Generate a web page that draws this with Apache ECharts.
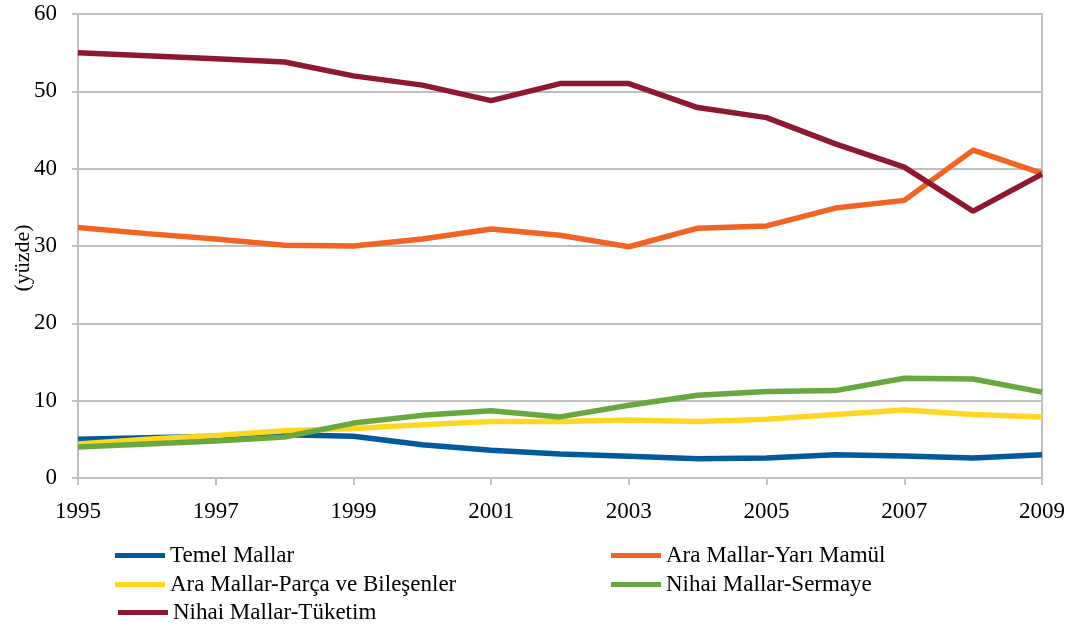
<!DOCTYPE html>
<html>
<head>
<meta charset="utf-8">
<script src="https://cdn.jsdelivr.net/npm/echarts@6/dist/echarts.min.js"></script>
<style>
  html, body { margin: 0; padding: 0; background: #fff; }
  #chart { width: 1069px; height: 627px; }
</style>
</head>
<body>
<div id="chart"></div>
<script>
  // years on the x axis
  const years = ['1995', '1996', '1997', '1998', '1999', '2000', '2001', '2002',
                 '2003', '2004', '2005', '2006', '2007', '2008', '2009'];

  // shares in percent
  const temelMallar   = [5.0, 5.2, 5.4, 5.6, 5.4, 4.3, 3.6, 3.1, 2.8, 2.5, 2.6, 3.0, 2.85, 2.6, 3.0];
  const araYariMamul  = [32.4, 31.6, 30.9, 30.1, 30.0, 30.9, 32.2, 31.4, 29.9, 32.3, 32.6, 34.9, 35.9, 42.4, 39.4];
  const araParca      = [4.4, 5.0, 5.5, 6.1, 6.4, 6.9, 7.3, 7.3, 7.5, 7.3, 7.6, 8.2, 8.8, 8.2, 7.9];
  const nihaiSermaye  = [4.0, 4.4, 4.8, 5.3, 7.1, 8.1, 8.7, 7.9, 9.4, 10.7, 11.2, 11.3, 12.9, 12.8, 11.1];
  const nihaiTuketim  = [55.0, 54.6, 54.2, 53.8, 52.0, 50.8, 48.8, 51.0, 51.0, 47.9, 46.6, 43.2, 40.2, 34.5, 39.3];

  const seriesNames = ['Temel Mallar', 'Ara Mallar-Yarı Mamül', 'Ara Mallar-Parça ve Bileşenler',
                       'Nihai Mallar-Sermaye', 'Nihai Mallar-Tüketim'];
  const seriesData = [temelMallar, araYariMamul, araParca, nihaiSermaye, nihaiTuketim];
  const colors = ['#005a9b', '#f26424', '#ffd723', '#69a841', '#8d1830'];

  const font = '"Liberation Serif", "DejaVu Serif", serif';
  const gray = '#bfbfbf';

  // legend slots (one legend per item, laid out like the original)
  const legendPos = [
    { left: 110, top: 539 },
    { left: 606, top: 539 },
    { left: 110, top: 568 },
    { left: 606, top: 568 },
    { left: 113, top: 596 }
  ];

  const chart = echarts.init(document.getElementById('chart'), null, { renderer: 'canvas' });

  const option = {
    animation: false,
    backgroundColor: '#fff',
    grid: {
      left: 78, right: 27, top: 14, bottom: 149,
      outerBoundsMode: 'none',
      containLabel: false,
      show: true, borderColor: gray, borderWidth: 2
    },
    legend: seriesNames.map((n, i) => ({
      data: [n],
      left: legendPos[i].left,
      top: legendPos[i].top,
      icon: 'rect',
      itemWidth: 50,
      itemHeight: 5,
      itemGap: 6,
      selectedMode: false,
      textStyle: { fontFamily: font, fontSize: 23, color: '#000' }
    })),
    xAxis: {
      type: 'category',
      data: years,
      boundaryGap: false,
      axisLine: { lineStyle: { color: gray, width: 2 } },
      axisTick: { show: true, interval: 1, length: 7, lineStyle: { color: gray, width: 2 } },
      axisLabel: { interval: 1, fontFamily: font, fontSize: 23, color: '#000', margin: 22 },
      splitLine: { show: false }
    },
    yAxis: {
      type: 'value',
      min: 0, max: 60, interval: 10,
      name: '(yüzde)',
      nameLocation: 'middle',
      nameGap: 44,
      nameRotate: 90,
      nameMoveOverlap: false,
      nameTextStyle: { fontFamily: font, fontSize: 22, color: '#000', padding: [0, 24, 0, 0] },
      axisLine: { show: true, lineStyle: { color: gray, width: 2 } },
      axisTick: { show: true, length: 6, lineStyle: { color: gray, width: 2 } },
      axisLabel: { fontFamily: font, fontSize: 23, color: '#000', margin: 21 },
      splitLine: { lineStyle: { color: gray, width: 2 } }
    },
    series: seriesNames.map((n, i) => ({
      name: n,
      type: 'line',
      data: seriesData[i],
      symbol: 'none',
      color: colors[i],
      lineStyle: { width: 5.5, color: colors[i] }
    }))
  };

  chart.setOption(option);
</script>
</body>
</html>
